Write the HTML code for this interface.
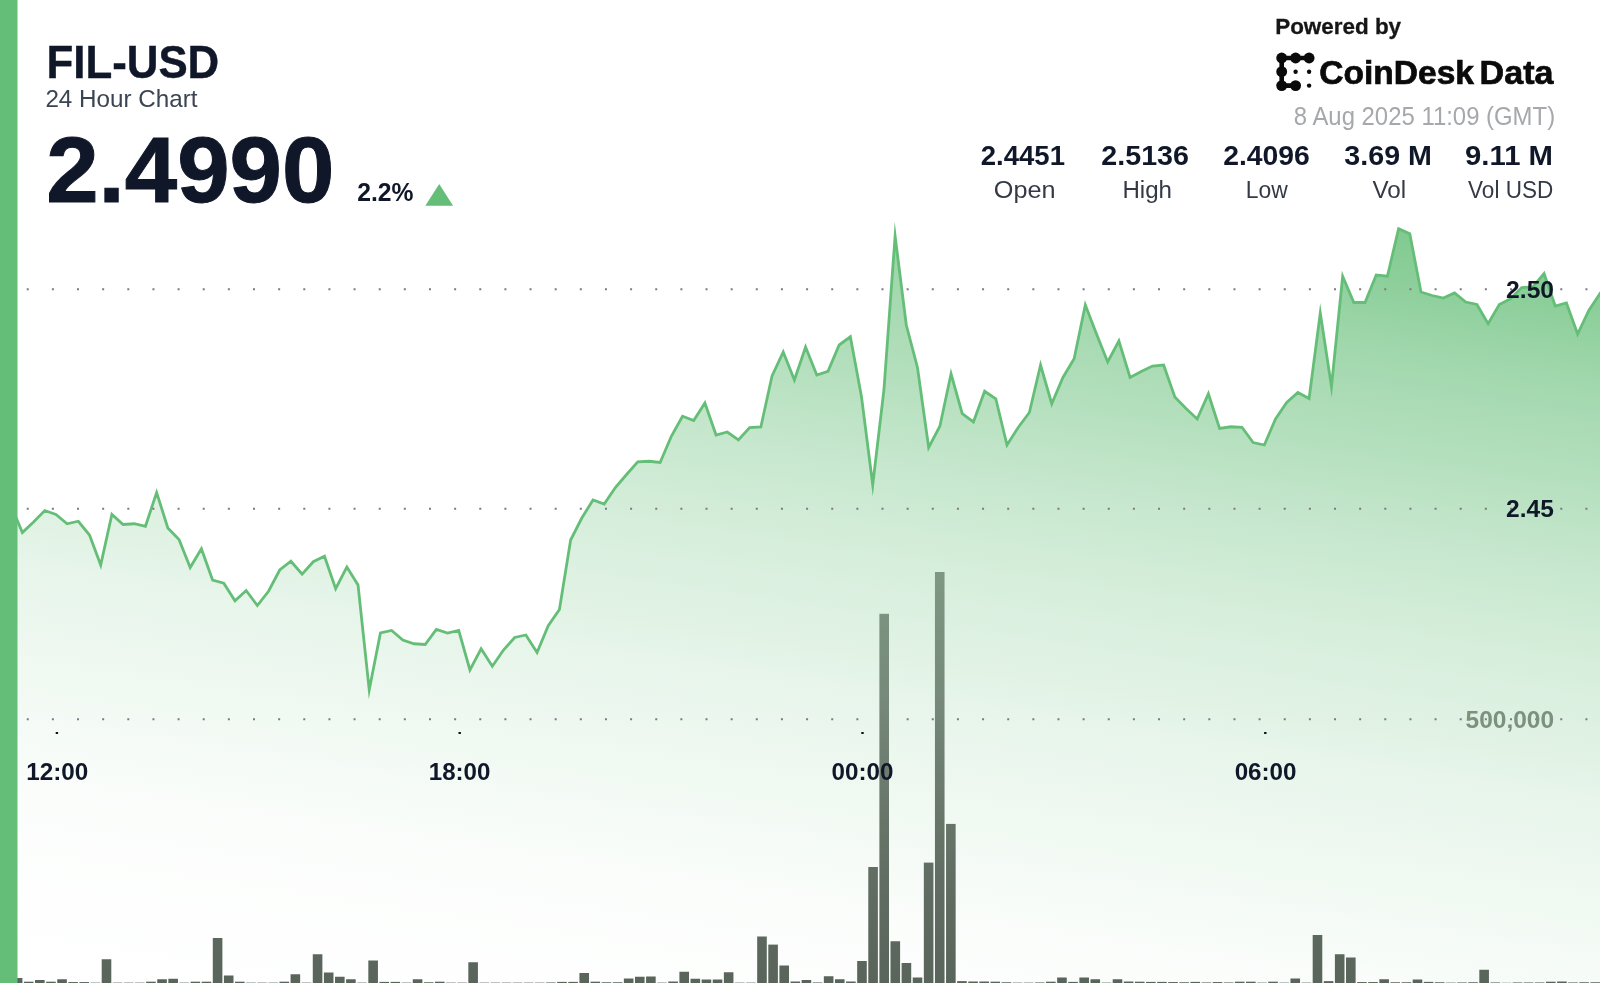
<!DOCTYPE html>
<html lang="en">
<head>
<meta charset="utf-8">
<title>FIL-USD 24 Hour Chart</title>
<style>
html,body{margin:0;padding:0;background:#fff;}
body{width:1600px;height:983px;overflow:hidden;position:relative;font-family:'Liberation Sans', Arial, sans-serif;}
svg{position:absolute;left:0;top:0;display:block;}
text{font-family:'Liberation Sans', Arial, sans-serif;}
.b{font-weight:700;}
</style>
</head>
<body>
<svg width="1600" height="983" viewBox="0 0 1600 983">
<defs>
<linearGradient id="ag" gradientUnits="userSpaceOnUse" x1="1600.0" y1="225.0" x2="1454.8" y2="1193.2">
<stop offset="0.0000" stop-color="#65be78" stop-opacity="0.86"/>
<stop offset="0.0828" stop-color="#65be78" stop-opacity="0.75"/>
<stop offset="0.1667" stop-color="#65be78" stop-opacity="0.6"/>
<stop offset="0.2646" stop-color="#65be78" stop-opacity="0.48"/>
<stop offset="0.3455" stop-color="#65be78" stop-opacity="0.37"/>
<stop offset="0.4667" stop-color="#65be78" stop-opacity="0.245"/>
<stop offset="0.5323" stop-color="#65be78" stop-opacity="0.2"/>
<stop offset="0.5879" stop-color="#65be78" stop-opacity="0.15"/>
<stop offset="0.6636" stop-color="#65be78" stop-opacity="0.11"/>
<stop offset="0.7444" stop-color="#65be78" stop-opacity="0.065"/>
<stop offset="0.8152" stop-color="#65be78" stop-opacity="0.025"/>
<stop offset="0.9667" stop-color="#65be78" stop-opacity="0.005"/>
<stop offset="1.0000" stop-color="#65be78" stop-opacity="0.0"/>
</linearGradient>
<linearGradient id="bg" gradientUnits="userSpaceOnUse" x1="0" y1="572" x2="0" y2="983">
<stop offset="0" stop-color="#7d9882"/>
<stop offset="0.31" stop-color="#76897a"/>
<stop offset="0.555" stop-color="#69786b"/>
<stop offset="0.80" stop-color="#5f6a60"/>
<stop offset="1" stop-color="#59645a"/>
</linearGradient>
<filter id="soft" filterUnits="userSpaceOnUse" x="-30" y="-30" width="1660" height="1043" color-interpolation-filters="sRGB">
<feGaussianBlur stdDeviation="0.75"/>
</filter>
</defs>
<g filter="url(#soft)">
<rect x="-30" y="-30" width="1660" height="1043" fill="#fff"/>
<!-- area + line -->
<path d="M-20,523 L0.00,515.00 L11.19,506.00 L22.38,532.50 L33.57,522.00 L44.76,510.50 L55.94,514.50 L67.13,523.75 L78.32,521.25 L89.51,535.00 L100.70,565.00 L111.89,514.50 L123.08,524.50 L134.27,523.75 L145.45,526.25 L156.64,492.50 L167.83,528.00 L179.02,539.50 L190.21,567.50 L201.40,548.75 L212.59,580.00 L223.78,583.25 L234.97,600.75 L246.15,590.50 L257.34,605.50 L268.53,591.25 L279.72,570.00 L290.91,561.25 L302.10,574.25 L313.29,561.75 L324.48,556.25 L335.66,588.75 L346.85,567.00 L358.04,585.00 L369.23,690.00 L380.42,633.00 L391.61,630.50 L402.80,640.00 L413.99,643.75 L425.17,644.50 L436.36,629.50 L447.55,633.00 L458.74,630.50 L469.93,670.00 L481.12,648.75 L492.31,666.25 L503.50,650.00 L514.69,637.50 L525.87,635.00 L537.06,652.50 L548.25,625.75 L559.44,609.50 L570.63,540.00 L581.82,518.00 L593.01,500.00 L604.20,504.00 L615.38,487.50 L626.57,474.50 L637.76,461.75 L648.95,461.25 L660.14,462.50 L671.33,436.25 L682.52,416.25 L693.71,420.50 L704.90,403.00 L716.08,435.00 L727.27,432.00 L738.46,440.00 L749.65,427.50 L760.84,427.00 L772.03,376.00 L783.22,352.00 L794.41,380.00 L805.59,347.00 L816.78,375.00 L827.97,371.25 L839.16,345.00 L850.35,336.75 L861.54,397.00 L872.73,485.00 L883.92,390.00 L895.10,236.00 L906.29,325.00 L917.48,367.50 L928.67,447.50 L939.86,426.25 L951.05,373.75 L962.24,413.75 L973.43,422.00 L984.62,391.25 L995.80,398.75 L1006.99,445.00 L1018.18,427.50 L1029.37,412.50 L1040.56,365.00 L1051.75,403.75 L1062.94,377.50 L1074.13,358.75 L1085.31,305.00 L1096.50,334.00 L1107.69,362.00 L1118.88,341.00 L1130.07,377.50 L1141.26,371.50 L1152.45,366.00 L1163.64,365.00 L1174.83,397.00 L1186.01,408.50 L1197.20,419.00 L1208.39,393.75 L1219.58,428.50 L1230.77,426.75 L1241.96,427.25 L1253.15,442.50 L1264.34,445.00 L1275.52,419.00 L1286.71,402.50 L1297.90,392.50 L1309.09,398.50 L1320.28,313.00 L1331.47,386.50 L1342.66,276.25 L1353.85,302.50 L1365.03,302.50 L1376.22,275.00 L1387.41,276.25 L1398.60,228.75 L1409.79,233.75 L1420.98,292.00 L1432.17,295.50 L1443.36,298.00 L1454.55,293.00 L1465.73,302.00 L1476.92,304.50 L1488.11,323.75 L1499.30,304.50 L1510.49,298.75 L1521.68,287.50 L1532.87,287.00 L1544.06,273.50 L1555.24,306.00 L1566.43,303.00 L1577.62,334.00 L1588.81,310.50 L1600.00,293.50 L1620,265.5 L1620,1010 L-20,1010 Z" fill="url(#ag)"/>
<path d="M-20,523 L0.00,515.00 L11.19,506.00 L22.38,532.50 L33.57,522.00 L44.76,510.50 L55.94,514.50 L67.13,523.75 L78.32,521.25 L89.51,535.00 L100.70,565.00 L111.89,514.50 L123.08,524.50 L134.27,523.75 L145.45,526.25 L156.64,492.50 L167.83,528.00 L179.02,539.50 L190.21,567.50 L201.40,548.75 L212.59,580.00 L223.78,583.25 L234.97,600.75 L246.15,590.50 L257.34,605.50 L268.53,591.25 L279.72,570.00 L290.91,561.25 L302.10,574.25 L313.29,561.75 L324.48,556.25 L335.66,588.75 L346.85,567.00 L358.04,585.00 L369.23,690.00 L380.42,633.00 L391.61,630.50 L402.80,640.00 L413.99,643.75 L425.17,644.50 L436.36,629.50 L447.55,633.00 L458.74,630.50 L469.93,670.00 L481.12,648.75 L492.31,666.25 L503.50,650.00 L514.69,637.50 L525.87,635.00 L537.06,652.50 L548.25,625.75 L559.44,609.50 L570.63,540.00 L581.82,518.00 L593.01,500.00 L604.20,504.00 L615.38,487.50 L626.57,474.50 L637.76,461.75 L648.95,461.25 L660.14,462.50 L671.33,436.25 L682.52,416.25 L693.71,420.50 L704.90,403.00 L716.08,435.00 L727.27,432.00 L738.46,440.00 L749.65,427.50 L760.84,427.00 L772.03,376.00 L783.22,352.00 L794.41,380.00 L805.59,347.00 L816.78,375.00 L827.97,371.25 L839.16,345.00 L850.35,336.75 L861.54,397.00 L872.73,485.00 L883.92,390.00 L895.10,236.00 L906.29,325.00 L917.48,367.50 L928.67,447.50 L939.86,426.25 L951.05,373.75 L962.24,413.75 L973.43,422.00 L984.62,391.25 L995.80,398.75 L1006.99,445.00 L1018.18,427.50 L1029.37,412.50 L1040.56,365.00 L1051.75,403.75 L1062.94,377.50 L1074.13,358.75 L1085.31,305.00 L1096.50,334.00 L1107.69,362.00 L1118.88,341.00 L1130.07,377.50 L1141.26,371.50 L1152.45,366.00 L1163.64,365.00 L1174.83,397.00 L1186.01,408.50 L1197.20,419.00 L1208.39,393.75 L1219.58,428.50 L1230.77,426.75 L1241.96,427.25 L1253.15,442.50 L1264.34,445.00 L1275.52,419.00 L1286.71,402.50 L1297.90,392.50 L1309.09,398.50 L1320.28,313.00 L1331.47,386.50 L1342.66,276.25 L1353.85,302.50 L1365.03,302.50 L1376.22,275.00 L1387.41,276.25 L1398.60,228.75 L1409.79,233.75 L1420.98,292.00 L1432.17,295.50 L1443.36,298.00 L1454.55,293.00 L1465.73,302.00 L1476.92,304.50 L1488.11,323.75 L1499.30,304.50 L1510.49,298.75 L1521.68,287.50 L1532.87,287.00 L1544.06,273.50 L1555.24,306.00 L1566.43,303.00 L1577.62,334.00 L1588.81,310.50 L1600.00,293.50 L1620,265.5" fill="none" stroke="#65be78" stroke-width="2.8" stroke-linejoin="miter" stroke-miterlimit="12"/>
<!-- volume bars -->
<g fill="url(#bg)">
<rect x="1.70" y="982.25" width="9.6" height="20.75"/>
<rect x="12.81" y="978.00" width="9.6" height="25.00"/>
<rect x="23.92" y="981.69" width="9.6" height="21.31"/>
<rect x="35.03" y="980.00" width="9.6" height="23.00"/>
<rect x="46.14" y="981.69" width="9.6" height="21.31"/>
<rect x="57.25" y="979.25" width="9.6" height="23.75"/>
<rect x="68.36" y="982.06" width="9.6" height="20.94"/>
<rect x="79.47" y="982.06" width="9.6" height="20.94"/>
<rect x="90.58" y="982.62" width="9.6" height="20.38"/>
<rect x="101.69" y="959.25" width="9.6" height="43.75"/>
<rect x="112.80" y="982.62" width="9.6" height="20.38"/>
<rect x="123.91" y="982.62" width="9.6" height="20.38"/>
<rect x="135.02" y="982.62" width="9.6" height="20.38"/>
<rect x="146.13" y="981.69" width="9.6" height="21.31"/>
<rect x="157.24" y="979.25" width="9.6" height="23.75"/>
<rect x="168.35" y="978.75" width="9.6" height="24.25"/>
<rect x="179.46" y="982.62" width="9.6" height="20.38"/>
<rect x="190.57" y="981.69" width="9.6" height="21.31"/>
<rect x="201.68" y="981.69" width="9.6" height="21.31"/>
<rect x="212.79" y="938.00" width="9.6" height="65.00"/>
<rect x="223.90" y="975.50" width="9.6" height="27.50"/>
<rect x="235.01" y="981.69" width="9.6" height="21.31"/>
<rect x="246.12" y="982.62" width="9.6" height="20.38"/>
<rect x="257.23" y="982.62" width="9.6" height="20.38"/>
<rect x="268.34" y="982.62" width="9.6" height="20.38"/>
<rect x="279.45" y="981.69" width="9.6" height="21.31"/>
<rect x="290.56" y="974.25" width="9.6" height="28.75"/>
<rect x="301.67" y="982.62" width="9.6" height="20.38"/>
<rect x="312.78" y="954.25" width="9.6" height="48.75"/>
<rect x="323.89" y="972.50" width="9.6" height="30.50"/>
<rect x="335.00" y="976.75" width="9.6" height="26.25"/>
<rect x="346.11" y="979.25" width="9.6" height="23.75"/>
<rect x="357.22" y="982.62" width="9.6" height="20.38"/>
<rect x="368.33" y="960.50" width="9.6" height="42.50"/>
<rect x="379.44" y="981.88" width="9.6" height="21.12"/>
<rect x="390.55" y="981.88" width="9.6" height="21.12"/>
<rect x="401.66" y="982.62" width="9.6" height="20.38"/>
<rect x="412.77" y="979.25" width="9.6" height="23.75"/>
<rect x="423.88" y="982.25" width="9.6" height="20.75"/>
<rect x="434.99" y="981.69" width="9.6" height="21.31"/>
<rect x="446.10" y="982.62" width="9.6" height="20.38"/>
<rect x="457.21" y="982.62" width="9.6" height="20.38"/>
<rect x="468.32" y="962.25" width="9.6" height="40.75"/>
<rect x="479.43" y="982.62" width="9.6" height="20.38"/>
<rect x="490.54" y="982.62" width="9.6" height="20.38"/>
<rect x="501.65" y="982.62" width="9.6" height="20.38"/>
<rect x="512.76" y="982.62" width="9.6" height="20.38"/>
<rect x="523.87" y="982.62" width="9.6" height="20.38"/>
<rect x="534.98" y="982.62" width="9.6" height="20.38"/>
<rect x="546.09" y="982.44" width="9.6" height="20.56"/>
<rect x="557.20" y="981.88" width="9.6" height="21.12"/>
<rect x="568.31" y="981.88" width="9.6" height="21.12"/>
<rect x="579.42" y="973.00" width="9.6" height="30.00"/>
<rect x="590.53" y="981.69" width="9.6" height="21.31"/>
<rect x="601.64" y="982.25" width="9.6" height="20.75"/>
<rect x="612.75" y="982.25" width="9.6" height="20.75"/>
<rect x="623.86" y="978.50" width="9.6" height="24.50"/>
<rect x="634.97" y="976.75" width="9.6" height="26.25"/>
<rect x="646.08" y="976.50" width="9.6" height="26.50"/>
<rect x="657.19" y="982.62" width="9.6" height="20.38"/>
<rect x="668.30" y="981.50" width="9.6" height="21.50"/>
<rect x="679.41" y="971.75" width="9.6" height="31.25"/>
<rect x="690.52" y="978.75" width="9.6" height="24.25"/>
<rect x="701.63" y="979.50" width="9.6" height="23.50"/>
<rect x="712.74" y="979.50" width="9.6" height="23.50"/>
<rect x="723.85" y="972.25" width="9.6" height="30.75"/>
<rect x="734.96" y="982.62" width="9.6" height="20.38"/>
<rect x="746.07" y="982.62" width="9.6" height="20.38"/>
<rect x="757.18" y="936.50" width="9.6" height="66.50"/>
<rect x="768.29" y="944.60" width="9.6" height="58.40"/>
<rect x="779.40" y="965.50" width="9.6" height="37.50"/>
<rect x="790.51" y="981.50" width="9.6" height="21.50"/>
<rect x="801.62" y="980.00" width="9.6" height="23.00"/>
<rect x="812.73" y="982.44" width="9.6" height="20.56"/>
<rect x="823.84" y="976.25" width="9.6" height="26.75"/>
<rect x="834.95" y="979.25" width="9.6" height="23.75"/>
<rect x="846.06" y="981.50" width="9.6" height="21.50"/>
<rect x="857.17" y="961.00" width="9.6" height="42.00"/>
<rect x="868.28" y="867.00" width="9.6" height="136.00"/>
<rect x="879.39" y="613.80" width="9.6" height="389.20"/>
<rect x="890.50" y="941.25" width="9.6" height="61.75"/>
<rect x="901.61" y="963.00" width="9.6" height="40.00"/>
<rect x="912.72" y="977.50" width="9.6" height="25.50"/>
<rect x="923.83" y="862.60" width="9.6" height="140.40"/>
<rect x="934.94" y="572.00" width="9.6" height="431.00"/>
<rect x="946.05" y="823.90" width="9.6" height="179.10"/>
<rect x="957.16" y="981.12" width="9.6" height="21.88"/>
<rect x="968.27" y="981.50" width="9.6" height="21.50"/>
<rect x="979.38" y="981.50" width="9.6" height="21.50"/>
<rect x="990.49" y="981.69" width="9.6" height="21.31"/>
<rect x="1001.60" y="982.25" width="9.6" height="20.75"/>
<rect x="1012.71" y="982.62" width="9.6" height="20.38"/>
<rect x="1023.82" y="982.62" width="9.6" height="20.38"/>
<rect x="1034.93" y="982.44" width="9.6" height="20.56"/>
<rect x="1046.04" y="981.69" width="9.6" height="21.31"/>
<rect x="1057.15" y="977.50" width="9.6" height="25.50"/>
<rect x="1068.26" y="981.88" width="9.6" height="21.12"/>
<rect x="1079.37" y="977.50" width="9.6" height="25.50"/>
<rect x="1090.48" y="979.25" width="9.6" height="23.75"/>
<rect x="1101.59" y="982.62" width="9.6" height="20.38"/>
<rect x="1112.70" y="979.25" width="9.6" height="23.75"/>
<rect x="1123.81" y="981.50" width="9.6" height="21.50"/>
<rect x="1134.92" y="981.69" width="9.6" height="21.31"/>
<rect x="1146.03" y="981.88" width="9.6" height="21.12"/>
<rect x="1157.14" y="981.88" width="9.6" height="21.12"/>
<rect x="1168.25" y="982.06" width="9.6" height="20.94"/>
<rect x="1179.36" y="982.25" width="9.6" height="20.75"/>
<rect x="1190.47" y="981.88" width="9.6" height="21.12"/>
<rect x="1201.58" y="982.44" width="9.6" height="20.56"/>
<rect x="1212.69" y="982.06" width="9.6" height="20.94"/>
<rect x="1223.80" y="982.44" width="9.6" height="20.56"/>
<rect x="1234.91" y="981.69" width="9.6" height="21.31"/>
<rect x="1246.02" y="981.69" width="9.6" height="21.31"/>
<rect x="1257.13" y="982.62" width="9.6" height="20.38"/>
<rect x="1268.24" y="981.69" width="9.6" height="21.31"/>
<rect x="1279.35" y="982.62" width="9.6" height="20.38"/>
<rect x="1290.46" y="978.50" width="9.6" height="24.50"/>
<rect x="1301.57" y="982.62" width="9.6" height="20.38"/>
<rect x="1312.68" y="935.00" width="9.6" height="68.00"/>
<rect x="1323.79" y="981.12" width="9.6" height="21.88"/>
<rect x="1334.90" y="954.25" width="9.6" height="48.75"/>
<rect x="1346.01" y="957.50" width="9.6" height="45.50"/>
<rect x="1357.12" y="982.06" width="9.6" height="20.94"/>
<rect x="1368.23" y="982.06" width="9.6" height="20.94"/>
<rect x="1379.34" y="979.25" width="9.6" height="23.75"/>
<rect x="1390.45" y="982.25" width="9.6" height="20.75"/>
<rect x="1401.56" y="982.25" width="9.6" height="20.75"/>
<rect x="1412.67" y="979.50" width="9.6" height="23.50"/>
<rect x="1423.78" y="981.88" width="9.6" height="21.12"/>
<rect x="1434.89" y="982.25" width="9.6" height="20.75"/>
<rect x="1446.00" y="982.62" width="9.6" height="20.38"/>
<rect x="1457.11" y="982.44" width="9.6" height="20.56"/>
<rect x="1468.22" y="982.25" width="9.6" height="20.75"/>
<rect x="1479.33" y="969.75" width="9.6" height="33.25"/>
<rect x="1490.44" y="982.44" width="9.6" height="20.56"/>
<rect x="1501.55" y="982.77" width="9.6" height="20.23"/>
<rect x="1512.66" y="982.44" width="9.6" height="20.56"/>
<rect x="1523.77" y="982.44" width="9.6" height="20.56"/>
<rect x="1534.88" y="982.44" width="9.6" height="20.56"/>
<rect x="1545.99" y="981.69" width="9.6" height="21.31"/>
<rect x="1557.10" y="981.50" width="9.6" height="21.50"/>
<rect x="1568.21" y="982.44" width="9.6" height="20.56"/>
<rect x="1579.32" y="982.25" width="9.6" height="20.75"/>
<rect x="1590.43" y="982.25" width="9.6" height="20.75"/>
</g>
<!-- grid -->
<line x1="0.6" y1="289.2" x2="1600" y2="289.2" stroke="#7f7884" stroke-width="2" stroke-dasharray="2 23.14" stroke-dashoffset="-1"/>
<line x1="0.6" y1="508.7" x2="1600" y2="508.7" stroke="#7f7884" stroke-width="2" stroke-dasharray="2 23.14" stroke-dashoffset="-1"/>
<line x1="0.6" y1="719.3" x2="1600" y2="719.3" stroke="#7f7884" stroke-width="2" stroke-dasharray="2 23.14" stroke-dashoffset="-1"/>
<!-- x ticks -->
<g fill="#111">
<rect x="55.7" y="732" width="2.4" height="2"/>
<rect x="458.5" y="732" width="2.4" height="2"/>
<rect x="861.3" y="732" width="2.4" height="2"/>
<rect x="1264.1" y="732" width="2.4" height="2"/>
</g>
<!-- axis labels -->
<text transform="translate(26.28,779.5) scale(0.9991,1)" font-size="24.3" font-weight="700" fill="#0f1729">12:00</text>
<text transform="translate(428.79,779.5) scale(0.9923,1)" font-size="24.3" font-weight="700" fill="#0f1729">18:00</text>
<text transform="translate(831.53,779.5) scale(0.9966,1)" font-size="24.3" font-weight="700" fill="#0f1729">00:00</text>
<text transform="translate(1234.63,779.5) scale(0.9966,1)" font-size="24.3" font-weight="700" fill="#0f1729">06:00</text>
<text transform="translate(1506.04,297.5) scale(1.0043,1)" font-size="24.6" font-weight="700" fill="#0f1729">2.50</text>
<text transform="translate(1506.04,517.2) scale(0.9976,1)" font-size="24.6" font-weight="700" fill="#0f1729">2.45</text>
<text transform="translate(1465.56,728.1) scale(0.9960,1)" font-size="24.6" font-weight="700" fill="#7d917f">500,000</text>
<!-- left bar -->
<rect x="-30" y="-30" width="47.5" height="1043" fill="#65be78"/>
<!-- header left -->
<text transform="translate(46.44,77.6) scale(0.9634,1)" font-size="45.5" font-weight="700" fill="#0f1729" stroke="#0f1729" stroke-width="0.4">FIL-USD</text>
<text transform="translate(45.39,106.9) scale(0.9851,1)" font-size="24.6" fill="#3a4452">24 Hour Chart</text>
<text transform="translate(46.20,201.5) scale(1.0241,1)" font-size="92" font-weight="700" fill="#0f1729" stroke="#0f1729" stroke-width="1.0">2.4990</text>
<text transform="translate(357.14,201.3) scale(0.9768,1)" font-size="25.3" font-weight="700" fill="#0f1729">2.2%</text>
<path d="M439.2,184 L453.1,205.7 L425.3,205.7 Z" fill="#65be78"/>
<!-- header right -->
<text transform="translate(1275.19,34.3) scale(0.9841,1)" font-size="22.8" font-weight="700" fill="#161616" stroke="#161616" stroke-width="0.3">Powered by</text>
<g fill="#0a0a0a" stroke="#0a0a0a">
<path d="M1281.7,58 H1309.1 M1281.7,58 V85.6 H1295.6" fill="none" stroke-width="4.6"/>
<circle cx="1281.7" cy="58" r="5.45" stroke="none"/>
<circle cx="1295.6" cy="58" r="5.45" stroke="none"/>
<circle cx="1309.1" cy="58" r="5.45" stroke="none"/>
<circle cx="1281.7" cy="71.7" r="5.45" stroke="none"/>
<circle cx="1281.7" cy="85.6" r="5.45" stroke="none"/>
<circle cx="1295.6" cy="85.6" r="5.45" stroke="none"/>
<circle cx="1295.6" cy="71.7" r="2.2" stroke="none"/>
<circle cx="1309.1" cy="71.7" r="2.2" stroke="none"/>
<circle cx="1309.1" cy="85.6" r="2.2" stroke="none"/>
</g>
<text transform="translate(1319.26,84) scale(0.9956,1)" font-size="33.7" font-weight="700" fill="#0a0a0a" stroke="#0a0a0a" stroke-width="0.7">CoinDesk</text>
<text transform="translate(1479.60,84) scale(1.0109,1)" font-size="33.7" font-weight="700" fill="#0a0a0a" stroke="#0a0a0a" stroke-width="0.7">Data</text>
<text transform="translate(1293.78,125.2) scale(0.9565,1)" font-size="25" fill="#a6a8ac">8 Aug 2025 11:09 (GMT)</text>
<text transform="translate(980.74,164.5) scale(1.0017,1)" font-size="27.5" font-weight="700" fill="#0f1729">2.4451</text>
<text transform="translate(1101.30,164.5) scale(1.0419,1)" font-size="27.5" font-weight="700" fill="#0f1729">2.5136</text>
<text transform="translate(1223.21,164.5) scale(1.0310,1)" font-size="27.5" font-weight="700" fill="#0f1729">2.4096</text>
<text transform="translate(1344.36,164.5) scale(1.0416,1)" font-size="27.5" font-weight="700" fill="#0f1729">3.69 M</text>
<text transform="translate(1465.07,164.5) scale(1.0658,1)" font-size="27.5" font-weight="700" fill="#0f1729">9.11 M</text>
<text transform="translate(993.80,198.35) scale(1.0307,1)" font-size="24.5" fill="#333a46">Open</text>
<text transform="translate(1122.41,198.35) scale(0.9843,1)" font-size="24.5" fill="#333a46">High</text>
<text transform="translate(1245.81,198.35) scale(0.9349,1)" font-size="24.5" fill="#333a46">Low</text>
<text transform="translate(1372.48,198.35) scale(0.9883,1)" font-size="24.5" fill="#333a46">Vol</text>
<text transform="translate(1468.09,198.35) scale(0.9198,1)" font-size="24.5" fill="#333a46">Vol USD</text>
</g>
</svg>
</body>
</html>
